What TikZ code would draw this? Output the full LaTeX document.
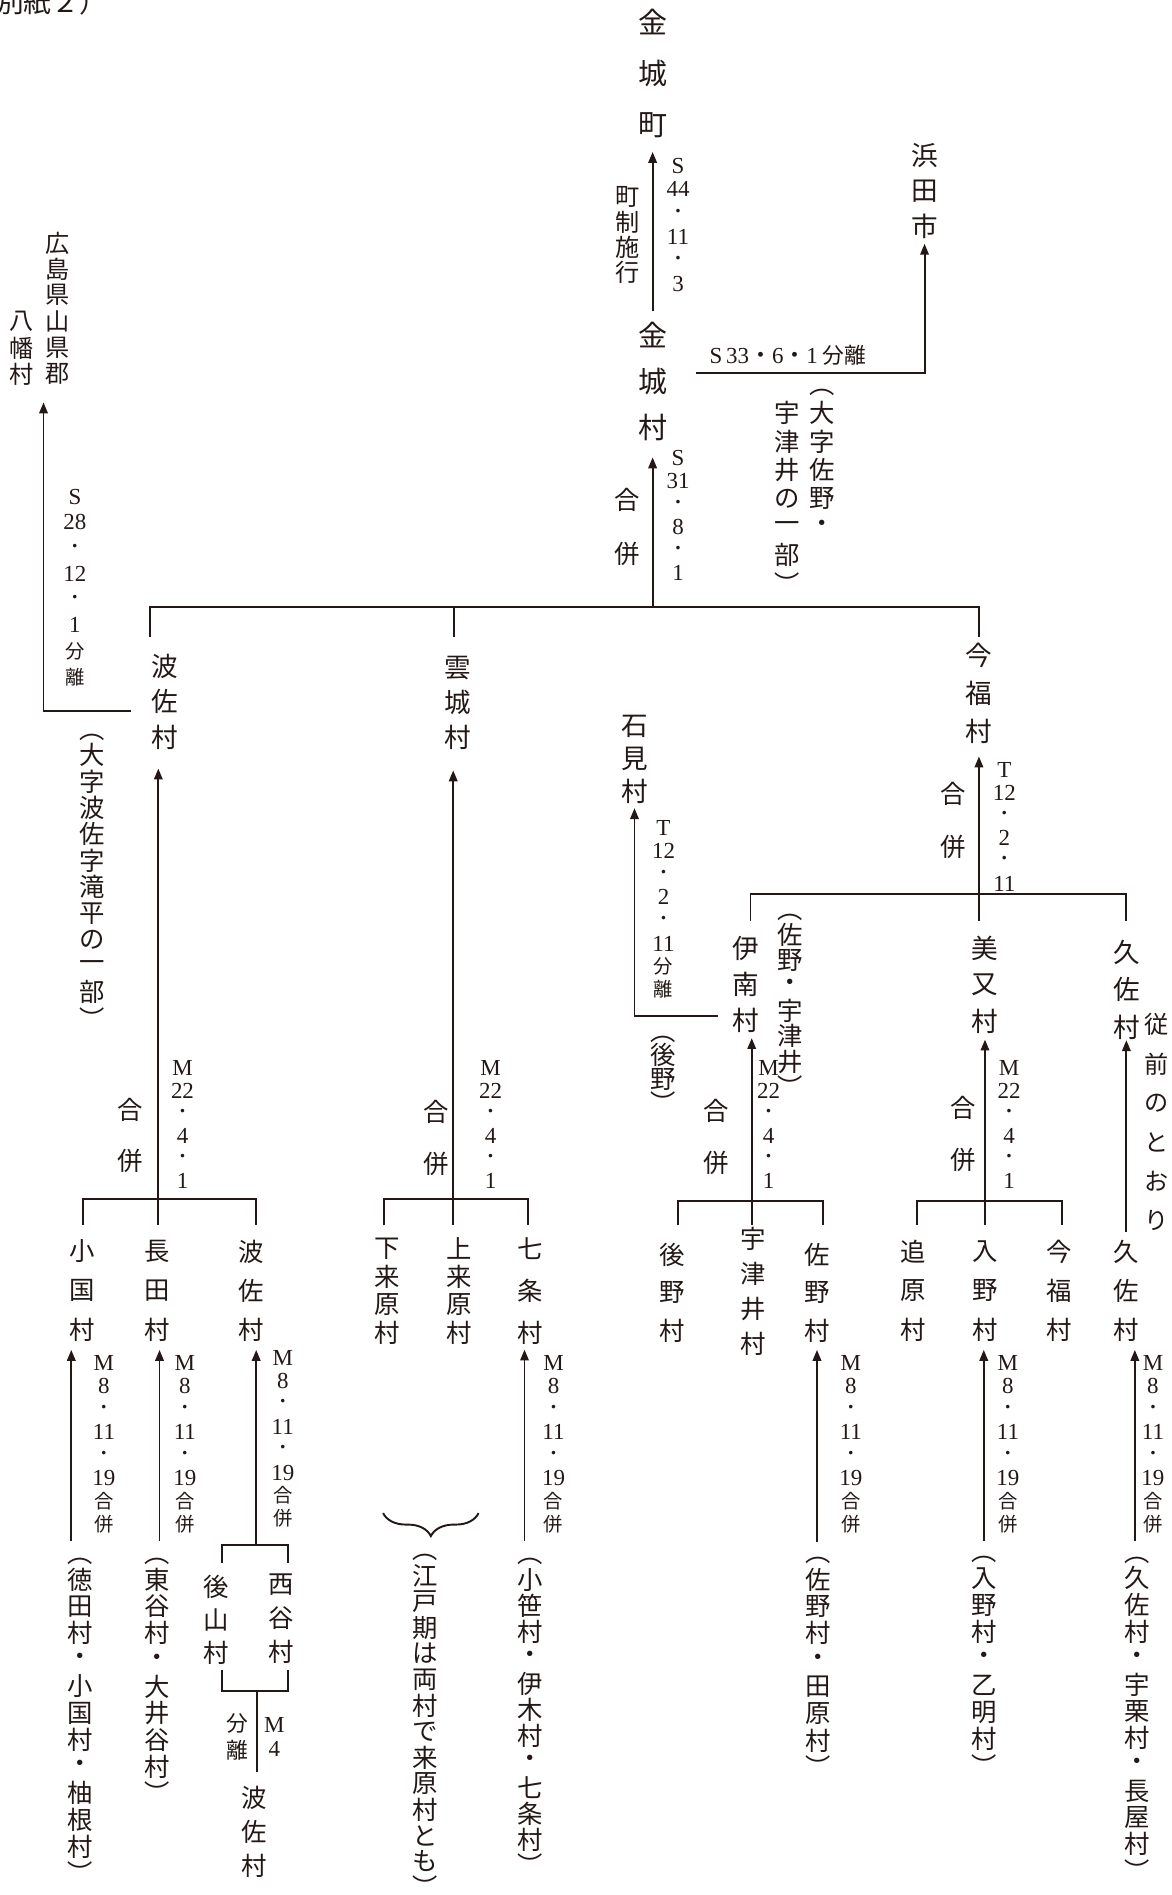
\documentclass[tikz,border=0pt]{standalone}
\usepackage{fontspec}
\setmainfont{Liberation Serif}
\newfontfamily\jp{Noto Sans CJK JP}
\usetikzlibrary{arrows.meta,positioning,decorations.pathreplacing}
\definecolor{ink}{RGB}{35,24,21}

% vertical column: #1 = pitch (pt), #2 = glyphs
\ExplSyntaxOn
\NewDocumentCommand \tate { m m }
  {
    \vbox:n
      {
        \offinterlineskip
        \tl_map_inline:nn {#2}
          {
            \hbox_to_wd:nn { 1.2em }
              { \hss \vbox_to_ht:nn { #1pt } { \vss \hbox:n {##1} \vss } \hss }
          }
      }
  }
\ExplSyntaxOff
\newcommand\lp{\rotatebox[origin=c]{-90}{（}}
\newcommand\rp{\rotatebox[origin=c]{-90}{）}}
\newcommand\dt{{\jp\fontsize{14}{14}\selectfont ・}}
\newcommand\sj[1]{{\jp\fontsize{16}{16}\selectfont #1}}

\tikzset{
  bigname/.style={inner sep=0pt, text=ink, font=\jp\fontsize{24}{24}\selectfont},
  vname/.style={inner sep=0pt, text=ink, font=\jp\fontsize{22}{22}\selectfont},
  lname/.style={inner sep=0pt, text=ink, font=\jp\fontsize{21}{21}\selectfont},
  vlabel/.style={inner sep=0pt, text=ink, font=\jp\fontsize{20}{20}\selectfont},
  gappei/.style={inner sep=0pt, text=ink, font=\jp\fontsize{21}{21}\selectfont},
  vnote/.style={inner sep=0pt, text=ink, font=\jp\fontsize{21}{21}\selectfont},
  vdate/.style={inner sep=0pt, text=ink, font=\fontsize{19}{19}\selectfont},
  link/.style={draw=ink, line width=1.6pt},
  arr/.style={link, -{Triangle[length=9pt,width=7pt]}},
}

\begin{document}
\begin{tikzpicture}[x=1pt, y=-1pt]
\useasboundingbox (0,0) rectangle (969,1568);

% --- header ---
\node[anchor=east, inner sep=0pt, text=ink, font=\jp\fontsize{23}{23}\selectfont]
  (bessi) at (89,2) {（別紙２）};

% --- 金城町 / 金城村 / 浜田市 ---
\node[bigname] (kinjo-cho) at (540,61) {\tate{43}{金城町}};
\node[bigname] (kinjo-mura) at (540,315.5) {\tate{38.5}{金城村}};
\node[vname] (hamada) at (765,158) {\tate{29}{浜田市}};
\node[vlabel] (seido) at (519,194) {\tate{20.7}{町制施行}};
\node[vdate] (d-s44) at (561,186) {\tate{19.6}{S{44}\dt{11}\dt3}};
\node[vdate] (d-s33) at (652,294)
  {S\hspace{3pt}33{\jp ・}6{\jp ・}1\hspace{4pt}{\jp\fontsize{18}{18}\selectfont 分離}};
\node[gappei] (gap-kinjo) at (519,436) {\tate{44}{合併}};
\node[vdate] (d-s31) at (561,426.5) {\tate{19}{S{31}\dt8\dt1}};
\node[vnote] (note-kinjo-a) at (680,377) {\tate{23.5}{\lp 大字佐野・}};
\node[vnote] (note-kinjo-b) at (651,412.5) {\tate{23.5}{宇津井の一部\rp}};

\draw[arr] (kinjo-mura.north) -- (kinjo-cho.south);
\coordinate (j-hamada) at (576,309);
\draw[arr] (j-hamada) -| (hamada.south);

% --- top merge ---
\coordinate (j-top) at (540,502);
\coordinate (t-hasa) at (124,527);
\coordinate (t-unjo) at (376,527);
\coordinate (t-imafuku) at (810,527);
\draw[link] (t-hasa) |- (t-imafuku |- j-top) -- (t-imafuku);
\draw[link] (t-unjo) -- (t-unjo |- j-top);
\draw[arr, shorten >=5pt] (j-top) -- (j-top |- kinjo-mura.south);

% --- 広島県 branch ---
\node[vlabel] (hiroshima) at (48,255) {\tate{21.6}{広島県山県郡}};
\node[vlabel] (yahata) at (18,288) {\tate{22}{八幡村}};
\node[vdate] (d-s28) at (62,485.5) {\tate{21.3}{S{28}\dt{12}\dt1{\sj{分}}{\sj{離}}}};
\node[vnote] (note-hasa) at (76,723) {\tate{21.8}{\lp 大字波佐字滝平の一部\rp}};
\coordinate (j-hiro) at (108,588);
\coordinate (tip-hiro) at (36,333);
\draw[arr] (j-hiro) -| (tip-hiro);

% --- second row of villages ---
\node[vname] (hasa) at (136,580.5) {\tate{29.5}{波佐村}};
\node[vname] (unjo) at (379,581.5) {\tate{28.5}{雲城村}};
\node[vname] (imafuku) at (810,573.5) {\tate{31.5}{今福村}};
\node[gappei] (gap-imafuku) at (789,679) {\tate{44}{合併}};
\node[vdate] (d-t12a) at (831,684) {\tate{18.8}{T{12}\dt2\dt{11}}};

\node[vname] (iwami) at (525,628) {\tate{27}{石見村}};
\node[vdate] (d-t12b) at (549,752) {\tate{19.1}{T{12}\dt2\dt{11}{\sj{分}}{\sj{離}}}};
\node[vnote] (note-gono) at (549,883) {\tate{20}{\lp 後野\rp}};

\node[vname] (inami) at (617,814.5) {\tate{29.5}{伊南村}};
\node[vnote] (note-inami) at (654,826) {\tate{21}{\lp 佐野・宇津井\rp}};
\node[vname] (mimata) at (815,815) {\tate{30}{美又村}};
\node[vname] (kusa) at (932,819) {\tate{31}{久佐村}};
\node[vlabel] (note-kusa-a) at (957,929) {\tate{32.4}{従前のとおり}};

\coordinate (j-iwami) at (594,841);
\draw[arr] (j-iwami) -| (iwami.south);

\coordinate (j-imafuku) at (810,740);
\coordinate (t-inami) at (621,762);
\coordinate (t-mimata) at (810,762);
\coordinate (t-kusa) at (932,762);
\draw[link] (t-inami) |- (t-kusa |- j-imafuku) -- (t-kusa);
\draw[link] (j-imafuku) -- (t-mimata);
\draw[arr, shorten >=5pt] (j-imafuku) -- (j-imafuku |- imafuku.south);

% --- M22 merges ---
\node[gappei] (gap-g1) at (108,939.5) {\tate{43}{合併}};
\node[vdate] (d-g1) at (151,930.5) {\tate{18.6}{M{22}\dt4\dt1}};
\node[gappei] (gap-g2) at (361,941.5) {\tate{43}{合併}};
\node[vdate] (d-g2) at (406,930.5) {\tate{18.6}{M{22}\dt4\dt1}};
\node[gappei] (gap-g3) at (593,940.5) {\tate{43}{合併}};
\node[vdate] (d-g3) at (636,930.5) {\tate{18.6}{M{22}\dt4\dt1}};
\node[gappei] (gap-g4) at (797,938.5) {\tate{43}{合併}};
\node[vdate] (d-g4) at (835,930.5) {\tate{18.6}{M{22}\dt4\dt1}};

\coordinate (j-g1) at (131,992);
\coordinate (t-okuni) at (69,1014);
\coordinate (t-nagata) at (131,1014);
\coordinate (t-hasa2) at (212,1014);
\draw[link] (t-okuni) |- (t-hasa2 |- j-g1) -- (t-hasa2);
\draw[link] (j-g1) -- (t-nagata);
\draw[arr, shorten >=11pt] (j-g1) -- (j-g1 |- hasa.south);

\coordinate (j-g2) at (375,992);
\coordinate (t-shimo) at (318,1014);
\coordinate (t-kami) at (375,1014);
\coordinate (t-shichijo) at (437,1014);
\draw[link] (t-shimo) |- (t-shichijo |- j-g2) -- (t-shichijo);
\draw[link] (j-g2) -- (t-kami);
\draw[arr, shorten >=13pt] (j-g2) -- (j-g2 |- unjo.south);

\coordinate (j-g3) at (622,994);
\coordinate (t-ushirono) at (561,1014);
\coordinate (t-utsui) at (622,1014);
\coordinate (t-sano) at (681,1014);
\draw[link] (t-ushirono) |- (t-sano |- j-g3) -- (t-sano);
\draw[link] (j-g3) -- (t-utsui);
\draw[arr] (j-g3) -- (j-g3 |- inami.south);

\coordinate (j-g4) at (815,994);
\coordinate (t-oihara) at (759,1014);
\coordinate (t-irino) at (815,1014);
\coordinate (t-imafuku2) at (879,1014);
\draw[link] (t-oihara) |- (t-imafuku2 |- j-g4) -- (t-imafuku2);
\draw[link] (j-g4) -- (t-irino);
\draw[arr] (j-g4) -- (j-g4 |- mimata.south);

% --- lower villages ---
\node[lname] (okuni) at (68,1068) {\tate{32.5}{小国村}};
\node[lname] (nagata) at (130,1068) {\tate{32.5}{長田村}};
\node[lname] (hasa2) at (208,1068) {\tate{32.5}{波佐村}};
\node[lname] (shimo) at (320,1068) {\tate{23.3}{下来原村}};
\node[lname] (kami) at (380,1068) {\tate{23.3}{上来原村}};
\node[lname] (shichijo) at (439,1068) {\tate{35}{七条村}};
\node[lname] (ushirono) at (556,1069.5) {\tate{31.5}{後野村}};
\node[lname] (utsui) at (623,1068.5) {\tate{29}{宇津井村}};
\node[lname] (sano) at (676,1069.5) {\tate{31.5}{佐野村}};
\node[lname] (oihara) at (756,1068) {\tate{32.5}{追原村}};
\node[lname] (irino) at (815,1068) {\tate{32.5}{入野村}};
\node[lname] (imafuku2) at (876,1068) {\tate{32.5}{今福村}};
\node[lname] (kusa2) at (932,1068) {\tate{32.5}{久佐村}};

\draw[arr, shorten >=-5pt] (kusa2.north) -- (kusa.south);

% --- M8 merges ---
\node[vdate] (d-okuni) at (86,1194.5) {\tate{19}{M8\dt{11}\dt{19}{\sj{合}}{\sj{併}}}};
\node[vdate] (d-nagata) at (153,1194.5) {\tate{19}{M8\dt{11}\dt{19}{\sj{合}}{\sj{併}}}};
\node[vdate] (d-hasa2) at (234,1190) {\tate{19}{M8\dt{11}\dt{19}{\sj{合}}{\sj{併}}}};
\node[vdate] (d-shichijo) at (458,1194.5) {\tate{19}{M8\dt{11}\dt{19}{\sj{合}}{\sj{併}}}};
\node[vdate] (d-sano) at (704,1194.5) {\tate{19}{M8\dt{11}\dt{19}{\sj{合}}{\sj{併}}}};
\node[vdate] (d-irino) at (834,1194.5) {\tate{19}{M8\dt{11}\dt{19}{\sj{合}}{\sj{併}}}};
\node[vdate] (d-kusa2) at (954,1194.5) {\tate{19}{M8\dt{11}\dt{19}{\sj{合}}{\sj{併}}}};

\coordinate (b-okuni) at (59,1275);
\coordinate (b-nagata) at (132,1275);
\coordinate (b-hasa2) at (212,1278);
\coordinate (b-shichijo) at (434,1275);
\coordinate (b-sano) at (676,1276);
\coordinate (b-irino) at (814,1275);
\coordinate (b-kusa2) at (939,1275);
\draw[arr] (b-okuni) -- (b-okuni |- okuni.south);
\draw[arr] (b-nagata) -- (b-nagata |- nagata.south);
\draw[arr] (b-hasa2) -- (b-hasa2 |- hasa2.south);
\draw[arr, shorten >=-4pt] (b-shichijo) -- (b-shichijo |- shichijo.south);
\draw[arr] (b-sano) -- (b-sano |- sano.south);
\draw[arr] (b-irino) -- (b-irino |- irino.south);
\draw[arr] (b-kusa2) -- (b-kusa2 |- kusa2.south);

% --- 後山村 / 西谷村 ---
\node[lname] (ushiroyama) at (179,1340.5) {\tate{27.5}{後山村}};
\node[lname] (nishidani) at (233,1339) {\tate{28}{西谷村}};
\node[vlabel, font=\jp\fontsize{18}{18}\selectfont] (gap-split) at (196,1437) {\tate{22}{分離}};
\node[vdate] (d-m4) at (227,1437) {\tate{20}{M4}};
\node[lname] (hasa3) at (210,1516) {\tate{28}{波佐村}};

\coordinate (t-ushiroyama) at (184,1293);
\coordinate (t-nishidani) at (238,1293);
\draw[link] (t-ushiroyama) |- (t-nishidani |- b-hasa2) -- (t-nishidani);
\coordinate (u-ushiroyama) at (184,1382);
\coordinate (u-nishidani) at (238,1382);
\coordinate (j-split) at (213,1399);
\draw[link] (u-ushiroyama) |- (u-nishidani |- j-split) -- (u-nishidani);
\draw[link, shorten >=8pt] (j-split) -- (j-split |- hasa3.north);

% --- brace ---
\coordinate (br-l) at (317,1252);
\coordinate (br-r) at (396,1252);
\draw[link, decorate, decoration={brace, mirror, amplitude=19pt}] (br-l) -- (br-r);

% --- notes ---
\node[vnote] (note-okuni) at (66,1417.5) {\tate{22.1}{\lp 徳田村・小国村・柚根村\rp}};
\node[vnote] (note-nagata) at (130,1384.5) {\tate{22.1}{\lp 東谷村・大井谷村\rp}};
\node[vnote] (note-kuruhara) at (352,1422) {\tate{21.5}{\lp 江戸期は両村で来原村とも\rp}};
\node[vnote] (note-shichijo) at (439,1414.5) {\tate{21.5}{\lp 小笹村・伊木村・七条村\rp}};
\node[vnote] (note-sano) at (677,1373.5) {\tate{22.2}{\lp 佐野村・田原村\rp}};
\node[vnote] (note-irino) at (814,1372.5) {\tate{22.2}{\lp 入野村・乙明村\rp}};
\node[vnote] (note-kusa) at (941,1416) {\tate{22}{\lp 久佐村・宇栗村・長屋村\rp}};

\end{tikzpicture}
\end{document}
